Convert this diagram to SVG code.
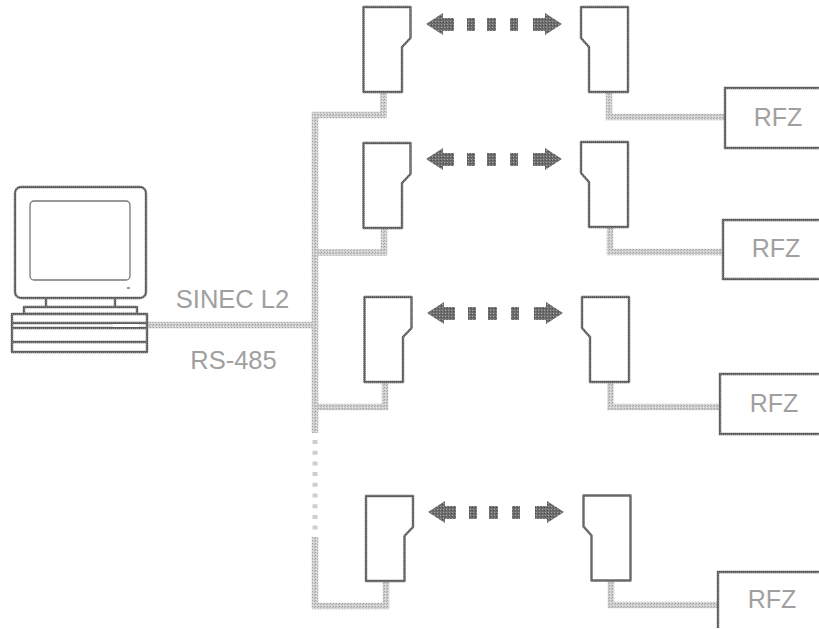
<svg xmlns="http://www.w3.org/2000/svg" width="819" height="629" viewBox="0 0 819 629">
<style>
.dev{fill:#fff;stroke:url(#dk);stroke-width:2.4;stroke-linejoin:round}
.cable{fill:none;stroke:url(#lt);stroke-width:6.5;stroke-linejoin:miter}
.dots{fill:none;stroke:#cfcfcf;stroke-width:5;stroke-dasharray:4 6.7}
.arrow{fill:url(#ar)}
.line{fill:none;stroke:url(#dk);stroke-width:2.4}
.thin{fill:none;stroke:#777;stroke-width:1.3}
text{font-family:"Liberation Sans",Arial,sans-serif;font-size:25px;fill:#a0a0a0;text-anchor:middle}
</style>
<defs>
<pattern id="lt" width="3" height="3" patternUnits="userSpaceOnUse"><rect width="3" height="3" fill="#cfcfcf"/><rect width="1" height="1" fill="#a2a2a2"/><rect x="2" y="1" width="1" height="1" fill="#b0b0b0"/><rect x="1" y="2" width="1" height="1" fill="#e8e8e8"/></pattern>
<pattern id="dk" width="2" height="2" patternUnits="userSpaceOnUse"><rect width="2" height="2" fill="#5e5e5e"/><rect width="1" height="1" fill="#8a8a8a"/></pattern>
<pattern id="ar" width="3" height="3" patternUnits="userSpaceOnUse"><rect width="3" height="3" fill="#6e6e6e"/><rect width="1" height="1" fill="#a5a5a5"/><rect x="2" y="1" width="1" height="1" fill="#4c4c4c"/></pattern>
<path id="left-dev" class="dev" d="M363.5 7H410.5V38L402 47V92H363.5Z"/>
<path id="right-dev" class="dev" d="M581 7H628V92H589V47L581 38Z"/>
<g id="radio">
<path class="arrow" d="M426 24L443 13V18H454V31H443V35Z"/>
<rect class="arrow" x="467" y="18" width="8" height="13"/>
<rect class="arrow" x="487" y="18" width="9" height="13"/>
<rect class="arrow" x="510" y="18" width="8" height="13"/>
<path class="arrow" d="M533 18H545V13L562 24L545 35V31H533Z"/>
</g>
</defs>
<g id="connectors">
<path class="cable" d="M147 325H315"/>
<path class="cable" d="M383.500 92V115H315V433"/>
<path class="cable" d="M384 228V252.500H315"/>
<path class="cable" d="M385 383V407H315"/>
<path class="cable" d="M315 537V606H386V581"/>
<path class="dots" d="M315 440V530"/>
<path class="cable" d="M609 92V117H725"/>
<path class="cable" d="M610 227V252H723"/>
<path class="cable" d="M610.500 382V407H720"/>
<path class="cable" d="M611 581V605H718"/>
</g>
<g id="computer">
<rect class="dev" x="15" y="187" width="131" height="111" rx="6"/>
<rect class="thin" x="30" y="201" width="100" height="79" rx="4"/>
<rect x="127" y="287" width="3" height="2" fill="#999"/>
<path class="line" d="M46 298V307M115 298V307"/>
<rect class="dev" x="24" y="307" width="113" height="7"/>
<rect class="dev" x="12" y="314" width="135" height="38"/>
<path class="line" d="M12 323H147M12 328H147M12 342H147"/>
<rect x="113" y="324" width="26" height="3" fill="#fff"/>
</g>
<g id="labels">
<text x="232.500" y="308" style="font-size:25.500px">SINEC L2</text>
<text x="233.500" y="369" style="font-size:25.500px">RS-485</text>
</g>
<g id="tx1"><use href="#left-dev"/></g>
<g id="tx2" transform="translate(0,136)"><use href="#left-dev"/></g>
<g id="tx3" transform="translate(1,290)"><use href="#left-dev"/></g>
<g id="tx4" transform="translate(2.500,489)"><use href="#left-dev"/></g>
<g id="rx1"><use href="#right-dev"/></g>
<g id="rx2" transform="translate(0,135)"><use href="#right-dev"/></g>
<g id="rx3" transform="translate(1,290)"><use href="#right-dev"/></g>
<g id="rx4" transform="translate(2.500,488.500)"><use href="#right-dev"/></g>
<g id="link1"><use href="#radio"/></g>
<g id="link2" transform="translate(0,135)"><use href="#radio"/></g>
<g id="link3" transform="translate(1,289)"><use href="#radio"/></g>
<g id="link4" transform="translate(2,488)"><use href="#radio"/></g>
<g id="rfz1"><path class="line" d="M819 88H725V148H819"/><text x="778" y="126">RFZ</text></g>
<g id="rfz2"><path class="line" d="M819 220H723V279H819"/><text x="776" y="257">RFZ</text></g>
<g id="rfz3"><path class="line" d="M819 374H720V434H819"/><text x="774" y="412">RFZ</text></g>
<g id="rfz4"><path class="line" d="M819 572H718V628"/><text x="772" y="608">RFZ</text></g>
</svg>
